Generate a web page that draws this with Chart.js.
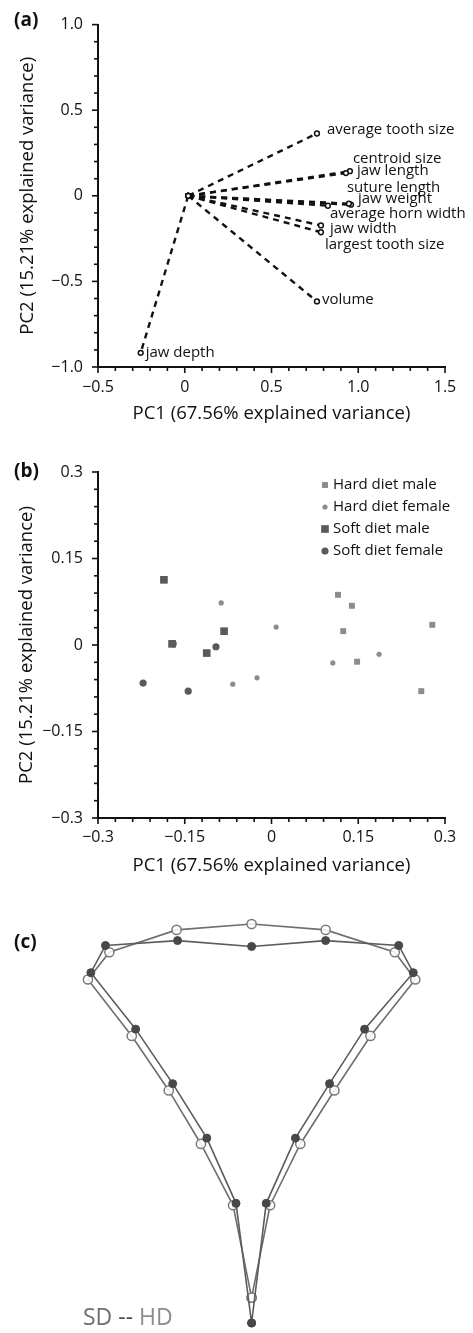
<!DOCTYPE html>
<html><head><meta charset="utf-8">
<script src="https://cdn.jsdelivr.net/npm/chart.js@4.4.1/dist/chart.umd.min.js"></script>
<style>
html,body{margin:0;padding:0;background:#fff;}
body{width:473px;height:1333px;position:relative;overflow:hidden;}
canvas{position:absolute;left:0;}
</style></head><body>
<canvas id="ca" width="473" height="425" style="top:0px"></canvas>
<canvas id="cb" width="473" height="440" style="top:440px"></canvas>
<canvas id="cc" width="473" height="453" style="top:880px"></canvas>
<script>
// ---------- Panel (a): PCA loadings ----------
const loadingNames = ['average tooth size','centroid size','jaw length','suture length','jaw weight','average horn width','jaw width','largest tooth size','volume','jaw depth'];
const loadingPC1 = [0.762, 0.929, 0.952, 0.946, 0.958, 0.825, 0.785, 0.785, 0.762, -0.254];
const loadingPC2 = [0.364, 0.133, 0.144, -0.046, -0.052, -0.058, -0.173, -0.213, -0.617, -0.917];
const vectorOrigin = [0.02, 0.0];
const aXMajor = [-0.5, 0, 0.5, 1.0, 1.5];
const aXMajorLabels = ['\u22120.5', '0', '0.5', '1.0', '1.5'];
const aYMajor = [-1.0, -0.5, 0, 0.5, 1.0];
const aYMajorLabels = ['\u22121.0', '\u22120.5', '0', '0.5', '1.0'];

// ---------- Panel (b): PCA scores ----------
const groupNames = ['Hard diet male', 'Hard diet female', 'Soft diet male', 'Soft diet female'];
const hardMalePC1 = [0.115, 0.139, 0.124, 0.148, 0.278, 0.259];
const hardMalePC2 = [0.087, 0.068, 0.024, -0.029, 0.035, -0.080];
const hardFemalePC1 = [-0.087, 0.008, -0.067, -0.025, 0.106, 0.186];
const hardFemalePC2 = [0.073, 0.031, -0.068, -0.057, -0.031, -0.016];
const softMalePC1 = [-0.186, -0.172, -0.112, -0.082];
const softMalePC2 = [0.113, 0.002, -0.014, 0.024];
const softFemalePC1 = [-0.222, -0.144, -0.096, -0.170];
const softFemalePC2 = [-0.066, -0.080, -0.003, 0.002];
const bMajor = [-0.3, -0.15, 0, 0.15, 0.3];
const bMajorLabels = ['\u22120.3', '\u22120.15', '0', '0.15', '0.3'];

// ---------- Panel (c): landmark wireframes (closed outlines) ----------
const sdX = [0, -16, -46, -81, -119, -165, -150, -76, 0, 76, 151, 166, 116, 80, 45, 15, 0];
const sdY = [0, 123, 190, 246, 302, 360, 388, 393, 387, 393, 388, 360, 302, 246, 190, 123, 0];
const hdX = [0, -19, -52, -85, -123, -168, -146, -77, 0, 76, 147, 168, 122, 85, 50, 19, 0];
const hdY = [26, 121, 184, 239, 295, 353, 381, 404, 410, 404, 381, 353, 295, 239, 184, 121, 26];

// ---------- styling ----------
const FONT = "'Open Sans', 'DejaVu Sans', sans-serif";
const INK = '#111';
const labelOffsets = [[10,-4],[7,-14],[7,0],[-2,-16],[7,-6],[2,8],[9,3],[4,12],[5,-2],[5,0]];

function pts(xs, ys) { return xs.map((x, i) => ({x: x, y: ys[i]})); }
function findMajor(list, v) { return list.findIndex(m => Math.abs(m - v) < 1e-6); }

function tickMarks(xMaj, yMaj) {
  return {
    id: 'tickMarks',
    afterDraw(chart) {
      const ctx = chart.ctx, sx = chart.scales.x, sy = chart.scales.y;
      ctx.save();
      ctx.strokeStyle = INK; ctx.lineWidth = 1.6;
      sx.ticks.forEach(t => {
        const p = sx.getPixelForValue(t.value);
        const len = findMajor(xMaj, t.value) >= 0 ? 6 : 4;
        ctx.beginPath(); ctx.moveTo(p, sx.top); ctx.lineTo(p, sx.top + len); ctx.stroke();
      });
      sy.ticks.forEach(t => {
        const p = sy.getPixelForValue(t.value);
        const len = findMajor(yMaj, t.value) >= 0 ? 6 : 4;
        ctx.beginPath(); ctx.moveTo(sy.right, p); ctx.lineTo(sy.right - len, p); ctx.stroke();
      });
      ctx.restore();
    }
  };
}

function panelLetter(text, x, y) {
  return {
    id: 'panelLetter',
    afterDraw(chart) {
      const ctx = chart.ctx;
      ctx.save();
      ctx.font = "bold 19px " + FONT;
      ctx.fillStyle = INK; ctx.textAlign = 'left'; ctx.textBaseline = 'middle';
      ctx.fillText(text, x, y);
      ctx.restore();
    }
  };
}

function axisScale(min, max, step, majors, labels, opts) {
  return {
    type: 'linear', min: min, max: max,
    border: {display: true, color: INK, width: 2},
    grid: {drawOnChartArea: false, drawTicks: false},
    ticks: {
      stepSize: step, autoSkip: false, maxRotation: 0, padding: opts.tickPad,
      color: INK, font: {family: FONT, size: 16},
      callback: v => { const i = findMajor(majors, v); return i >= 0 ? labels[i] : ''; }
    },
    title: {display: true, text: opts.title, color: INK, font: {family: FONT, size: 18.5}, padding: opts.titlePad},
    afterFit: opts.fit
  };
}

const base = {
  responsive: false, animation: false, devicePixelRatio: 1,
  plugins: {legend: {display: false}, tooltip: {enabled: false}}
};

// ---------- Chart (a) ----------
const loadLabels = {
  id: 'loadLabels',
  afterDatasetsDraw(chart) {
    const ctx = chart.ctx, sx = chart.scales.x, sy = chart.scales.y;
    ctx.save();
    ctx.font = "15px " + FONT; ctx.fillStyle = INK; ctx.textAlign = 'left'; ctx.textBaseline = 'middle';
    loadingNames.forEach((n, i) => {
      const px = sx.getPixelForValue(loadingPC1[i]), py = sy.getPixelForValue(loadingPC2[i]);
      ctx.fillText(n, px + labelOffsets[i][0], py + labelOffsets[i][1]);
    });
    ctx.restore();
  }
};

new Chart(document.getElementById('ca'), {
  type: 'scatter',
  data: {
    datasets: loadingNames.map((n, i) => ({
      label: n,
      data: [{x: vectorOrigin[0], y: vectorOrigin[1]}, {x: loadingPC1[i], y: loadingPC2[i]}],
      showLine: true, borderColor: INK, borderWidth: 2.4, borderDash: [6, 5],
      pointRadius: 2.4, pointBorderWidth: 1.5, pointBackgroundColor: '#fff', pointBorderColor: INK,
      clip: false
    }))
  },
  options: Object.assign({}, base, {
    layout: {padding: {left: 0, right: 28, top: 21, bottom: 0}},
    scales: {
      x: axisScale(-0.5, 1.5, 0.1, aXMajor, aXMajorLabels,
        {tickPad: 11, title: 'PC1 (67.56% explained variance)', titlePad: {top: 0, bottom: 0}, fit: s => { s.height = 58; }}),
      y: axisScale(-1.0, 1.0, 0.1, aYMajor, aYMajorLabels,
        {tickPad: 15, title: 'PC2 (15.21% explained variance)', titlePad: {top: 17, bottom: 0}, fit: s => { s.width = 98; }})
    }
  }),
  plugins: [tickMarks(aXMajor, aYMajor), loadLabels, panelLetter('(a)', 14, 21)]
});

// ---------- Chart (b) ----------
const hardColor = '#8c8c8c', softColor = '#5a5a5a';
const groupStyles = [
  {style: 'rect', r: 4.2, color: hardColor},
  {style: 'circle', r: 2.6, color: hardColor},
  {style: 'rect', r: 5.4, color: softColor},
  {style: 'circle', r: 3.6, color: softColor}
];
const groupData = [
  pts(hardMalePC1, hardMalePC2), pts(hardFemalePC1, hardFemalePC2),
  pts(softMalePC1, softMalePC2), pts(softFemalePC1, softFemalePC2)
];

const legendB = {
  id: 'legendB',
  afterDraw(chart) {
    const ctx = chart.ctx;
    ctx.save();
    ctx.font = "15px " + FONT; ctx.textAlign = 'left'; ctx.textBaseline = 'middle';
    groupNames.forEach((n, i) => {
      const y = 45 + i * 22, x = 325, g = groupStyles[i];
      ctx.fillStyle = g.color;
      if (g.style === 'rect') { const h = g.r * Math.SQRT1_2; ctx.fillRect(x - h, y - h, 2 * h, 2 * h); }
      else { ctx.beginPath(); ctx.arc(x, y, g.r, 0, Math.PI * 2); ctx.fill(); }
      ctx.fillStyle = INK;
      ctx.fillText(n, 333, y);
    });
    ctx.restore();
  }
};

new Chart(document.getElementById('cb'), {
  type: 'scatter',
  data: {
    datasets: groupNames.map((n, i) => ({
      label: n, data: groupData[i],
      pointStyle: groupStyles[i].style, pointRadius: groupStyles[i].r,
      pointBackgroundColor: groupStyles[i].color, pointBorderColor: groupStyles[i].color, pointBorderWidth: 0,
      clip: false
    }))
  },
  options: Object.assign({}, base, {
    layout: {padding: {left: 0, right: 28, top: 32, bottom: 0}},
    scales: {
      x: axisScale(-0.3, 0.3, 0.03, bMajor, bMajorLabels,
        {tickPad: 10, title: 'PC1 (67.56% explained variance)', titlePad: {top: 0, bottom: 3}, fit: s => { s.height = 62; }}),
      y: axisScale(-0.3, 0.3, 0.03, bMajor, bMajorLabels,
        {tickPad: 15, title: 'PC2 (15.21% explained variance)', titlePad: {top: 16, bottom: 0}, fit: s => { s.width = 98; }})
    }
  }),
  plugins: [tickMarks(bMajor, bMajor), legendB, panelLetter('(b)', 14, 32)]
});

// ---------- Chart (c) ----------
const keyC = {
  id: 'keyC',
  afterDraw(chart) {
    const ctx = chart.ctx;
    ctx.save();
    ctx.font = "23px " + FONT; ctx.textAlign = 'left'; ctx.textBaseline = 'middle';
    let x = 83; const y = 438;
    [['SD', '#6e6e6e'], [' -- ', '#4a4a4a'], ['HD', '#8c8c8c']].forEach(p => {
      ctx.fillStyle = p[1]; ctx.fillText(p[0], x, y); x += ctx.measureText(p[0]).width;
    });
    ctx.restore();
  }
};

new Chart(document.getElementById('cc'), {
  type: 'scatter',
  data: {
    datasets: [
      {label: 'SD', data: pts(sdX, sdY), showLine: true, order: 0,
       borderColor: '#5c5c5c', borderWidth: 1.6, pointRadius: 4,
       pointBackgroundColor: '#484848', pointBorderColor: '#484848', pointBorderWidth: 1, clip: false},
      {label: 'HD', data: pts(hdX, hdY), showLine: true, order: 1,
       borderColor: '#6e6e6e', borderWidth: 1.6, pointRadius: 4.6,
       pointBackgroundColor: 'rgba(255,255,255,0.85)', pointBorderColor: '#7a7a7a', pointBorderWidth: 1.5, clip: false}
    ]
  },
  options: Object.assign({}, base, {
    layout: {padding: 0},
    scales: {
      x: {type: 'linear', display: false, min: -252, max: 221},
      y: {type: 'linear', display: false, min: -4, max: 449}
    }
  }),
  plugins: [keyC, panelLetter('(c)', 14, 63)]
});
</script>
</body></html>
